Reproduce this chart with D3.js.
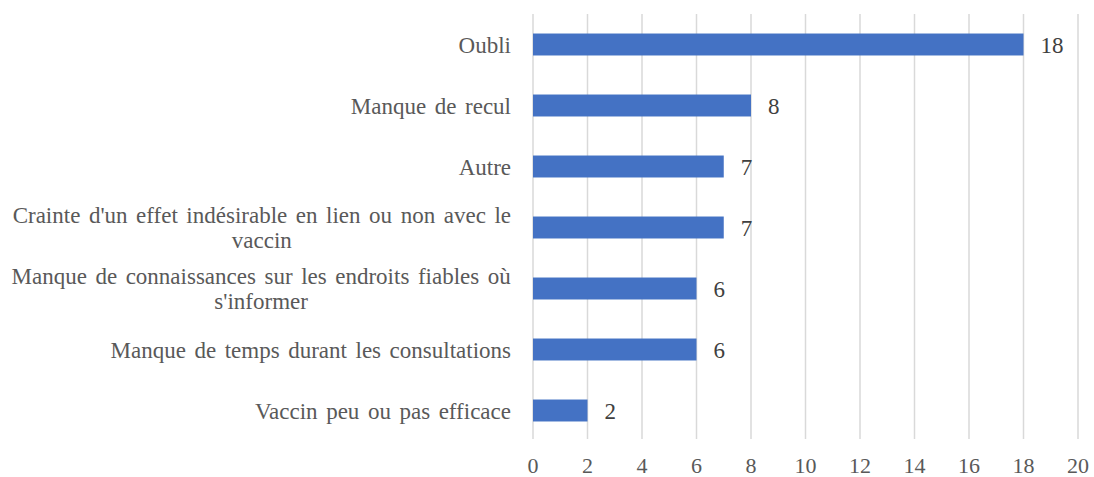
<!DOCTYPE html>
<html>
<head>
<meta charset="utf-8">
<script src="https://cdn.jsdelivr.net/npm/d3@7"></script>
<style>
  body { margin: 0; background: #fff; }
</style>
</head>
<body>
<svg id="chart" width="1094" height="477"></svg>
<script>
var categories = [
	["Oubli"],
	["Manque de recul"],
	["Autre"],
	["Crainte d'un effet indésirable en lien ou non avec le", "vaccin"],
	["Manque de connaissances sur les endroits fiables où", "s'informer"],
	["Manque de temps durant les consultations"],
	["Vaccin peu ou pas efficace"]
];
var values = [18, 8, 7, 7, 6, 6, 2];
var xTicks = [0, 2, 4, 6, 8, 10, 12, 14, 16, 18, 20];

var FONT = 'Liberation Serif';
var svg = d3.select('#chart'),
	plotLeft = 533, plotRight = 1078, plotTop = 14, plotBottom = 441;

var x = d3.scaleLinear().domain([0, 20]).range([plotLeft, plotRight]);
var y = d3.scaleBand().domain(d3.range(categories.length)).range([plotTop, plotBottom]).paddingInner(0.64).paddingOuter(0.32);

// vertical gridlines
svg.append('g').selectAll('line').data(xTicks).enter().append('line')
	.attr('x1', function(d){ return x(d); })
	.attr('x2', function(d){ return x(d); })
	.attr('y1', plotTop)
	.attr('y2', 439)
	.attr('stroke', '#d9d9d9')
	.attr('stroke-width', 1.5);

// tick labels
svg.append('g').selectAll('text').data(xTicks).enter().append('text')
	.attr('x', function(d){ return x(d); })
	.attr('y', 473)
	.attr('text-anchor', 'middle')
	.attr('font-family', FONT)
	.attr('font-size', 22)
	.attr('fill', '#595959')
	.text(function(d){ return d; });

// bars
svg.append('g').selectAll('rect').data(values).enter().append('rect')
	.attr('x', x(0))
	.attr('y', function(d, i){ return y(i); })
	.attr('width', function(d){ return x(d) - x(0); })
	.attr('height', y.bandwidth())
	.attr('fill', '#4472c4');

// value labels
svg.append('g').selectAll('text').data(values).enter().append('text')
	.attr('x', function(d){ return x(d) + 17; })
	.attr('y', function(d, i){ return y(i) + y.bandwidth() / 2 + 8; })
	.attr('font-family', FONT)
	.attr('font-size', 23)
	.attr('fill', '#404040')
	.text(function(d){ return d; });

// category labels (wrapped lines centered within block, block right-aligned)
var labelRight = 511, lineH = 25;
var catG = svg.append('g');
categories.forEach(function(lines, i){
	var g = catG.append('g');
	var cy = y(i) + y.bandwidth() / 2;
	var texts = lines.map(function(l, k){
		return g.append('text')
			.attr('font-family', FONT)
			.attr('font-size', 23)
			.attr('word-spacing', 2.8)
			.attr('fill', '#595959')
			.attr('text-anchor', 'middle')
			.attr('y', cy + 8 + (k - (lines.length - 1) / 2) * lineH)
			.text(l);
	});
	var maxW = d3.max(texts, function(t){ return t.node().getBBox().width; });
	texts.forEach(function(t){ t.attr('x', labelRight - maxW / 2); });
});
</script>
</body>
</html>
